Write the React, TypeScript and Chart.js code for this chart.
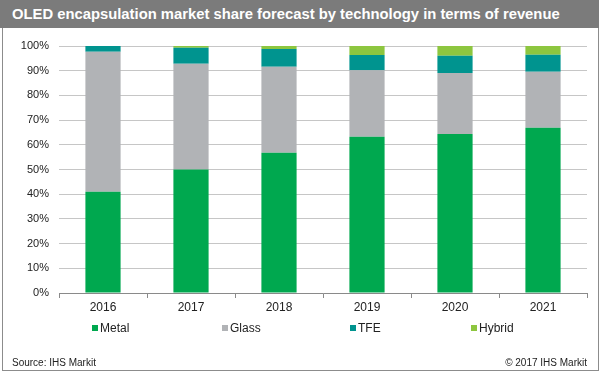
import React, { useEffect, useRef } from "react";
import { Chart, registerables } from "chart.js";

Chart.register(...registerables);

const years = ["2016", "2017", "2018", "2019", "2020", "2021"];
const metal = [41, 50, 56.8, 63.3, 64.4, 66.9];
const glass = [56.7, 42.8, 34.8, 26.9, 24.7, 22.7];
const tfe = [2.3, 6.5, 7.2, 6.2, 7.0, 6.9];
const hybrid = [0, 0.7, 1.2, 3.6, 3.9, 3.5];

const seriesNames = ["Metal", "Glass", "TFE", "Hybrid"];
const seriesColors = ["#00a84f", "#b1b3b6", "#00948f", "#8dc63f"];

const FONT = '"Liberation Sans", Arial, sans-serif';

export default function App() {
  const ref = useRef<HTMLCanvasElement | null>(null);

  useEffect(() => {
    document.body.style.margin = "0";
    const ctx = ref.current!.getContext("2d")!;
    const data = [metal, glass, tfe, hybrid];
    const chart = new Chart(ctx, {
      type: "bar",
      data: {
        labels: years,
        datasets: seriesNames.map((n, i) => ({
          label: n,
          data: data[i],
          backgroundColor: seriesColors[i],
          borderWidth: 0,
          barPercentage: 0.4,
          categoryPercentage: 1,
        })),
      },
      options: {
        responsive: false,
        animation: false,
        devicePixelRatio: 1,
        layout: { padding: { top: 46, left: 0, right: 13, bottom: 50 } },
        plugins: { legend: { display: false }, tooltip: { enabled: false } },
        scales: {
          x: {
            stacked: true,
            grid: { offset: true, drawOnChartArea: false, tickLength: 5, color: "#8a8a8a" },
            border: { color: "#8a8a8a" },
            ticks: { font: { family: FONT, size: 12 }, color: "#222", padding: 2 },
            afterFit: (s: any) => { s.height = 30; },
          },
          y: {
            stacked: true,
            min: 0,
            max: 100,
            ticks: {
              stepSize: 10,
              callback: (v: any) => v + "%",
              font: { family: FONT, size: 11 },
              color: "#222",
              padding: 10,
            },
            grid: { color: "#c6c6c6", drawTicks: false },
            border: { display: false },
            afterFit: (s: any) => { s.width = 59; },
          },
        },
      },
    });
    return () => chart.destroy();
  }, []);

  const legendX = [92, 222, 350, 471];

  return (
    <div style={{ position: "relative", width: 600, height: 373, background: "#fff", fontFamily: FONT, overflow: "hidden" }}>
      <canvas ref={ref} width={600} height={373} style={{ position: "absolute", left: 0, top: 0 }} />
      <div style={{ position: "absolute", left: 2, top: 0, width: 597, height: 371, border: "1px solid #8c8c8c", boxSizing: "border-box", pointerEvents: "none" }} />
      <div style={{ position: "absolute", left: 0, top: 0, width: 599, height: 28, background: "#7b7b7b", color: "#fff", fontWeight: "bold", fontSize: 14.8, lineHeight: "28px", paddingLeft: 12, boxSizing: "border-box", whiteSpace: "nowrap" }}>
        OLED encapsulation market share forecast by technology in terms of revenue
      </div>
      {seriesNames.map((n, i) => (
        <div key={n} style={{ position: "absolute", left: legendX[i], top: 320, height: 16, display: "flex", alignItems: "center", fontSize: 12, color: "#222", whiteSpace: "nowrap" }}>
          <span style={{ display: "inline-block", width: 6, height: 6, background: seriesColors[i], marginRight: 2 }} />
          {n}
        </div>
      ))}
      <div style={{ position: "absolute", left: 12, top: 356, fontSize: 10, color: "#222", lineHeight: "14px" }}>Source: IHS Markit</div>
      <div style={{ position: "absolute", right: 13, top: 356, fontSize: 10, color: "#222", lineHeight: "14px" }}>© 2017 IHS Markit</div>
    </div>
  );
}
